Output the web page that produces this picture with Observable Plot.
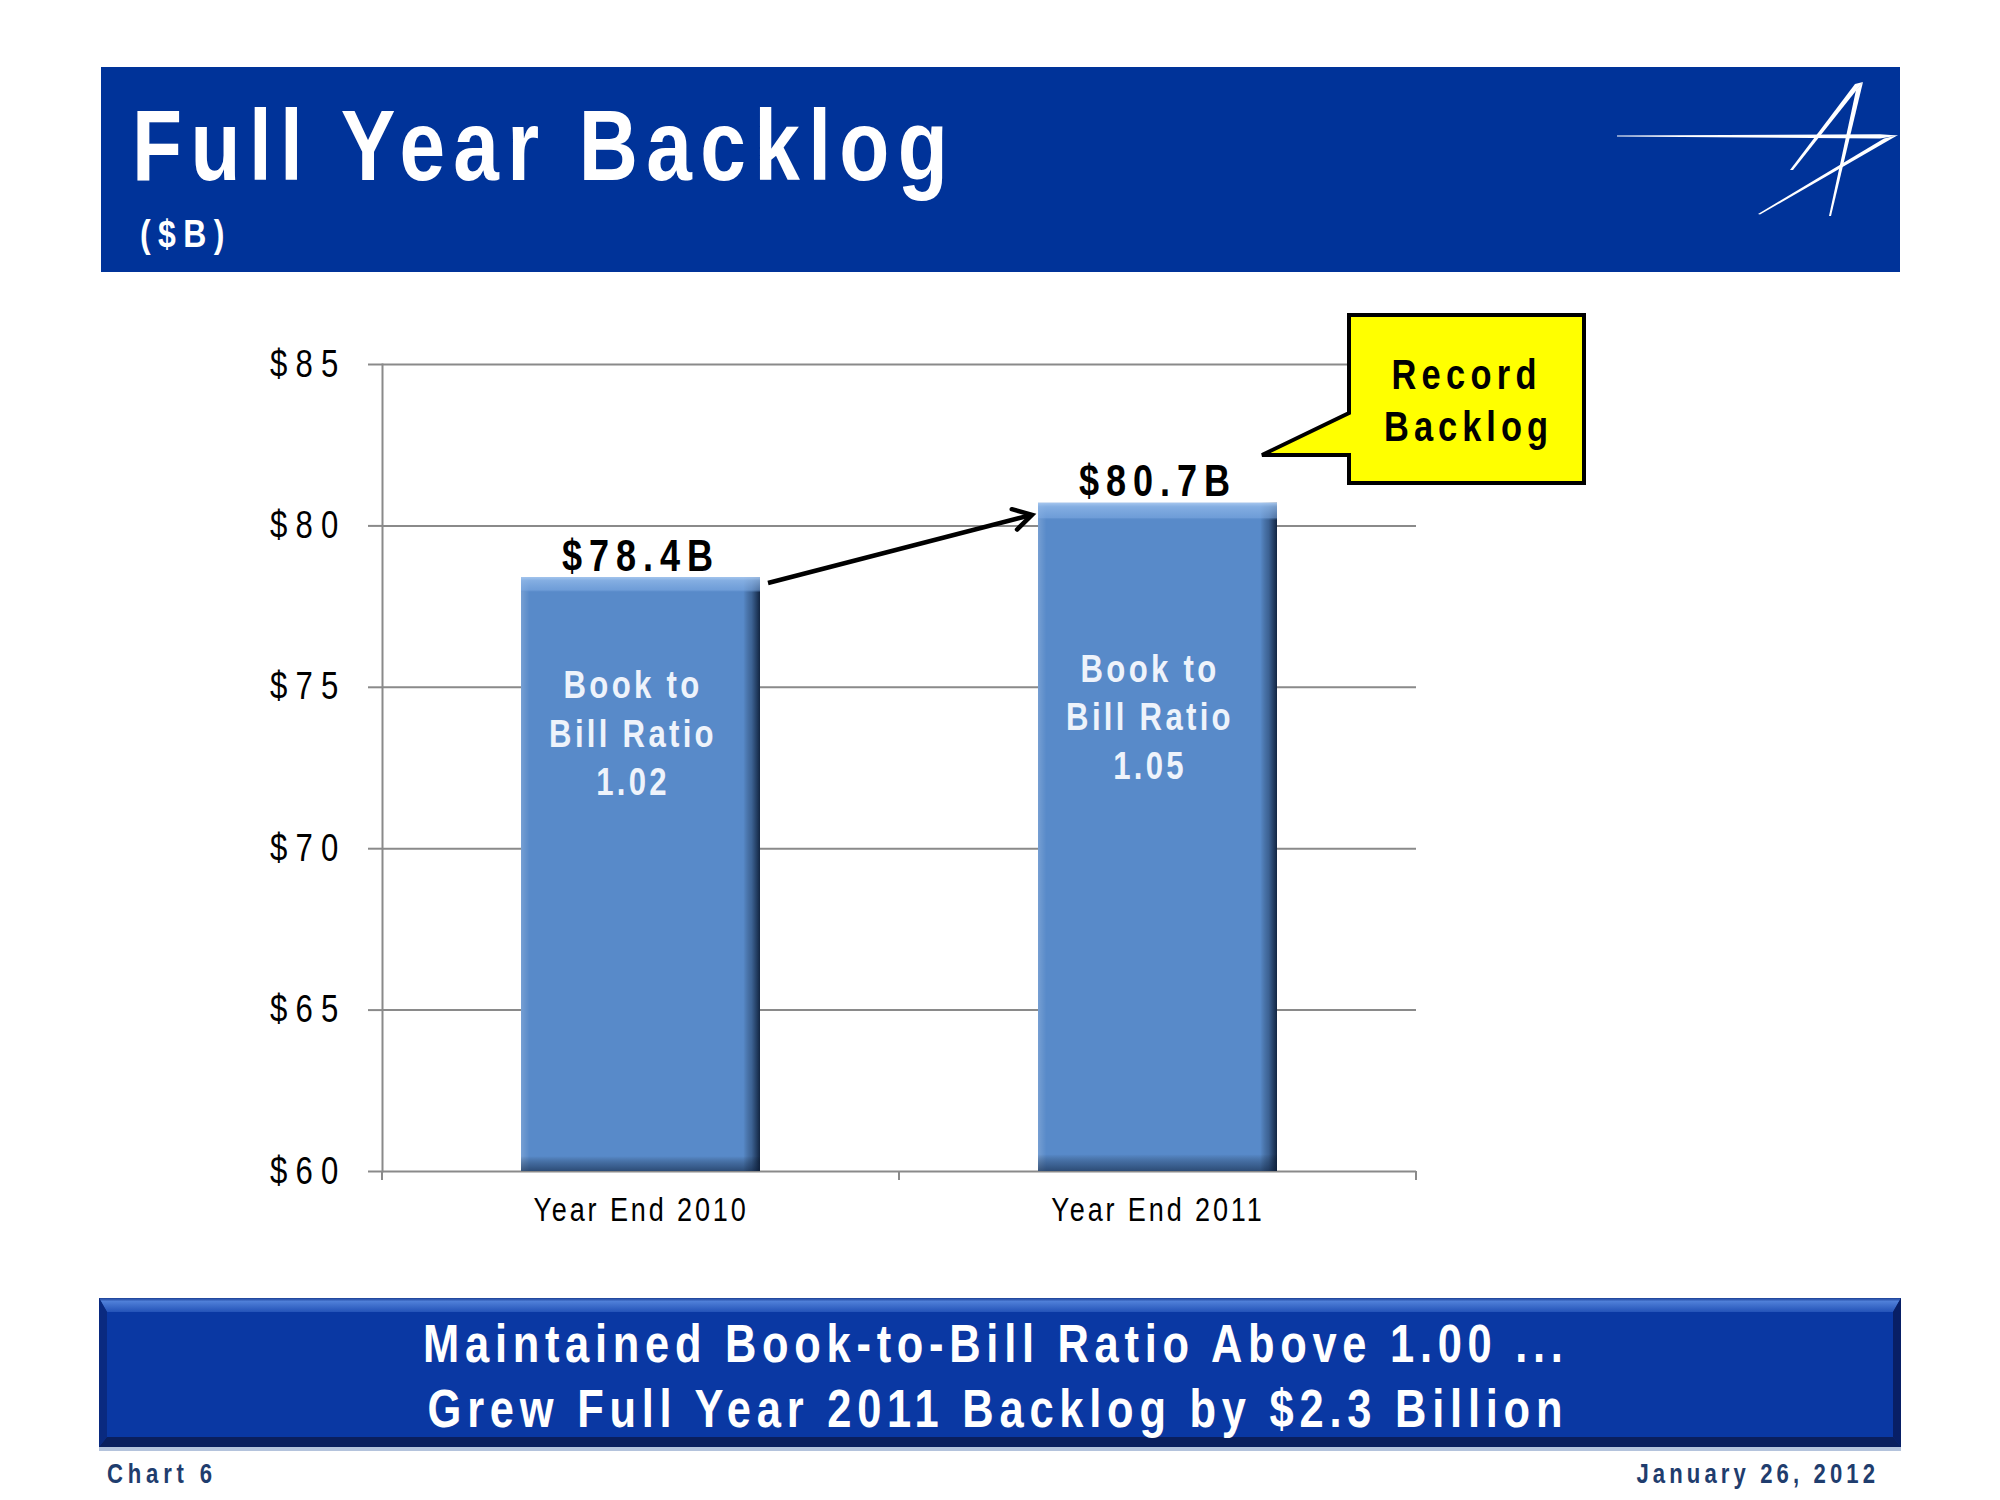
<!DOCTYPE html>
<html><head><meta charset="utf-8">
<script src="https://cdn.jsdelivr.net/npm/d3@7"></script>
<script src="https://cdn.jsdelivr.net/npm/@observablehq/plot@0.6"></script>
<style>
html,body{margin:0;padding:0;background:#fff;}
#page{position:relative;width:2000px;height:1500px;overflow:hidden;font-family:"Liberation Sans",Arial,sans-serif;}
#decor,#overlay{position:absolute;left:0;top:0;}
#overlay{pointer-events:none;}
#chart{position:absolute;left:0;top:300px;}
#chart svg{background:transparent !important;}
</style></head><body>
<div id="page">
<svg id="decor" width="2000" height="1500" font-family='"Liberation Sans",Arial,sans-serif'>
  <defs>
    <linearGradient id="barH" x1="0" y1="0" x2="1" y2="0">
      <stop offset="0" stop-color="#ffffff" stop-opacity="0.18"/>
      <stop offset="0.035" stop-color="#ffffff" stop-opacity="0"/>
      <stop offset="0.93" stop-color="#000000" stop-opacity="0"/>
      <stop offset="0.965" stop-color="#0a1a33" stop-opacity="0.35"/>
      <stop offset="1" stop-color="#0a1a33" stop-opacity="0.9"/>
    </linearGradient>
    <linearGradient id="barV" x1="0" y1="0" x2="0" y2="1">
      <stop offset="0" stop-color="#a9c9f0" stop-opacity="0.95"/>
      <stop offset="0.006" stop-color="#8fb7e8" stop-opacity="0.8"/>
      <stop offset="0.022" stop-color="#7eaae2" stop-opacity="0.6"/>
      <stop offset="0.026" stop-color="#588ac9" stop-opacity="0"/>
      <stop offset="0.975" stop-color="#000000" stop-opacity="0"/>
      <stop offset="0.99" stop-color="#0a1a33" stop-opacity="0.35"/>
      <stop offset="1" stop-color="#0a1a33" stop-opacity="0.55"/>
    </linearGradient>
    <linearGradient id="bannerTop" x1="0" y1="0" x2="0" y2="1">
      <stop offset="0" stop-color="#1b3f95"/>
      <stop offset="0.25" stop-color="#4f7fd8"/>
      <stop offset="1" stop-color="#2453b8"/>
    </linearGradient>
  </defs>
  <!-- header -->
  <rect x="101" y="67" width="1799" height="205" fill="#003399"/>
  <text transform="translate(132,180) scale(0.82,1)" font-size="100" font-weight="bold" fill="#ffffff" textLength="995" lengthAdjust="spacing">Full Year Backlog</text>
  <text transform="translate(140,247) scale(0.82,1)" font-size="39" font-weight="bold" fill="#ffffff" textLength="103" lengthAdjust="spacing">($B)</text>
  <!-- logo -->
  <g fill="#ffffff">
    <polygon points="1617,135.6 1880,134.2 1898,135.6 1880,138.6 1617,136.6"/>
    <polygon points="1790,170 1855,84 1863,82 1793,170"/>
    <polygon points="1856,90 1863,82 1831,216 1829,216"/>
    <polygon points="1898,135 1884,138.5 1758,214 1760,214.5"/>
  </g>
  <!-- bottom banner -->
  <rect x="99" y="1446" width="1802" height="5" fill="#b4c3dc"/>
  <rect x="99" y="1298" width="1802" height="149" fill="#0c2d86"/>
  <polygon points="99,1298 1901,1298 1893,1312 107,1312" fill="url(#bannerTop)"/>
  <polygon points="99,1447 1901,1447 1893,1437 107,1437" fill="#0a1f5e"/>
  <polygon points="99,1298 107,1312 107,1437 99,1447" fill="#0a2a80"/>
  <polygon points="1901,1298 1893,1312 1893,1437 1901,1447" fill="#081f66"/>
  <rect x="107" y="1312" width="1786" height="125" fill="#0a38a3"/>
  <text transform="translate(993,1362) scale(0.82,1)" text-anchor="middle" font-size="53" font-weight="bold" fill="#ffffff" textLength="1390" lengthAdjust="spacing">Maintained Book-to-Bill Ratio Above 1.00 ...</text>
  <text transform="translate(995,1427) scale(0.82,1)" text-anchor="middle" font-size="53" font-weight="bold" fill="#ffffff" textLength="1384" lengthAdjust="spacing">Grew Full Year 2011 Backlog by $2.3 Billion</text>
  <!-- footer -->
  <text transform="translate(107,1483) scale(0.82,1)" font-size="27" font-weight="bold" fill="#1f3d6e" textLength="128" lengthAdjust="spacing">Chart 6</text>
  <text transform="translate(1875,1483) scale(0.82,1)" text-anchor="end" font-size="27" font-weight="bold" fill="#1f3d6e" textLength="291" lengthAdjust="spacing">January 26, 2012</text>
</svg>
<div id="chart"></div>
<svg id="overlay" width="2000" height="1500" font-family='"Liberation Sans",Arial,sans-serif'>
  <path d="M1349,315 H1584 V483 H1349 V455 H1262 L1349,413 Z" fill="#ffff00" stroke="#000000" stroke-width="4" stroke-linejoin="miter"/>
  <text transform="translate(1464,389) scale(0.82,1)" text-anchor="middle" font-size="42" font-weight="bold" fill="#000" textLength="177" lengthAdjust="spacing">Record</text>
  <text transform="translate(1466,441) scale(0.82,1)" text-anchor="middle" font-size="42" font-weight="bold" fill="#000" textLength="200" lengthAdjust="spacing">Backlog</text>
</svg>
</div>
<script>
// ---- data ----
const categories = ["Year End 2010", "Year End 2011"];
const backlog = [78.4, 80.7];
const valueLabels = ["$78.4B", "$80.7B"];
const bookToBill = [1.02, 1.05];
const yTicks = [60, 65, 70, 75, 80, 85];

const rows = categories.map((c, i) => ({category: c, value: backlog[i], label: valueLabels[i], ratio: bookToBill[i]}));
const base = yTicks[0];
const font = '"Liberation Sans",Arial,sans-serif';
const ratioText = d => `Book to\nBill Ratio\n${d.ratio.toFixed(2)}`;
const grid = "#8a8a8a";
const narrow = 0.82; // horizontal condensing to mimic a narrow typeface

const plot = Plot.plot({
  width: 1500, height: 950,
  marginLeft: 382, marginRight: 84, marginTop: 64, marginBottom: 79,
  style: {fontFamily: font, background: "transparent", color: "#000", overflow: "visible"},
  x: {domain: categories, paddingInner: 0.538, paddingOuter: 0.269, label: null},
  y: {domain: [yTicks[0], yTicks[yTicks.length - 1]], label: null},
  marks: [
    Plot.gridY(yTicks, {stroke: grid, strokeOpacity: 1, strokeWidth: 2}),
    Plot.frame({anchor: "left", stroke: grid, strokeWidth: 2}),
    Plot.axisY(yTicks, {tickSize: 14, tickPadding: 22, tickFormat: d => "$" + d, fontSize: 38, stroke: grid, strokeWidth: 2, fill: "#000", label: null}),
    Plot.axisX({tickSize: 0, tickPadding: 26, fontSize: 33, fill: "#000", label: null}),
    Plot.barY(rows, {x: "category", y1: base, y2: "value", fill: "#588ac9"}),
    Plot.barY(rows, {x: "category", y1: base, y2: "value", fill: "url(#barH)"}),
    Plot.barY(rows, {x: "category", y1: base, y2: "value", fill: "url(#barV)"}),
    Plot.text(rows, {x: "category", y: "value", text: "label", lineAnchor: "bottom", dy: -7, fontSize: 44, fontWeight: "bold", fill: "#000"}),
    Plot.text(rows.slice(0, 1), {x: "category", y: "value", text: ratioText, lineAnchor: "top", lineHeight: 1.28, dx: -8, dy: 86, fontSize: 38, fontWeight: "bold", fill: "#eef3fb"}),
    Plot.text(rows.slice(1, 2), {x: "category", y: "value", text: ratioText, lineAnchor: "top", lineHeight: 1.28, dx: -8, dy: 144, fontSize: 38, fontWeight: "bold", fill: "#eef3fb"})
  ]
});
document.getElementById("chart").appendChild(plot);

// condense every text of the chart horizontally (narrow face look) and space letters
plot.querySelectorAll("text").forEach(t => {
  const tr = t.getAttribute("transform");
  if (tr) {
    t.setAttribute("transform", tr + ` scale(${narrow},1)`);
  } else {
    const x = +(t.getAttribute("x") || 0), y = +(t.getAttribute("y") || 0);
    if (!isNaN(x) && !isNaN(y)) {
      t.removeAttribute("x"); t.removeAttribute("y");
      t.setAttribute("transform", `translate(${x},${y}) scale(${narrow},1)`);
    }
  }
});
const setLS = (el, px) => { if (el) el.style.letterSpacing = px + "px"; };
setLS(plot.querySelector('g[aria-label="y-axis tick label"]'), 10);
setLS(plot.querySelector('g[aria-label="x-axis tick label"]'), 3.5);
const textGroups = plot.querySelectorAll('g[aria-label="text"]');
setLS(textGroups[0], 8.5);
setLS(textGroups[1], 4);
setLS(textGroups[2], 4);

// category boundary ticks and growth arrow, positioned from the plot's scales
const xs = plot.scale("x"), ys = plot.scale("y");
const bw = xs.bandwidth, step = xs.step;
const yBase = ys.apply(base);
const svg = d3.select(plot);
const g = svg.append("g");
const bounds = categories.map(c => xs.apply(c) - (step - bw) / 2);
bounds.push(xs.apply(categories[categories.length - 1]) + bw + (step - bw) / 2);
bounds.forEach(x => g.append("line").attr("x1", x).attr("x2", x).attr("y1", yBase).attr("y2", yBase + 9)
  .attr("stroke", grid).attr("stroke-width", 2));

const ax0 = xs.apply(categories[0]) + bw + 8, ay0 = ys.apply(backlog[0]) + 6;
const ax1 = xs.apply(categories[1]) - 6, ay1 = ys.apply(backlog[1]) + 12;
const th = Math.atan2(ay1 - ay0, ax1 - ax0), L = 21, a = 30 * Math.PI / 180;
g.append("line").attr("x1", ax0).attr("y1", ay0).attr("x2", ax1 - 2 * Math.cos(th)).attr("y2", ay1 - 2 * Math.sin(th))
  .attr("stroke", "#000").attr("stroke-width", 4.5);
g.append("path")
  .attr("d", `M${ax1 - L * Math.cos(th - a)},${ay1 - L * Math.sin(th - a)}L${ax1},${ay1}L${ax1 - L * Math.cos(th + a)},${ay1 - L * Math.sin(th + a)}`)
  .attr("fill", "none").attr("stroke", "#000").attr("stroke-width", 4.5).attr("stroke-linejoin", "miter").attr("stroke-linecap", "round");
</script>
</body></html>
